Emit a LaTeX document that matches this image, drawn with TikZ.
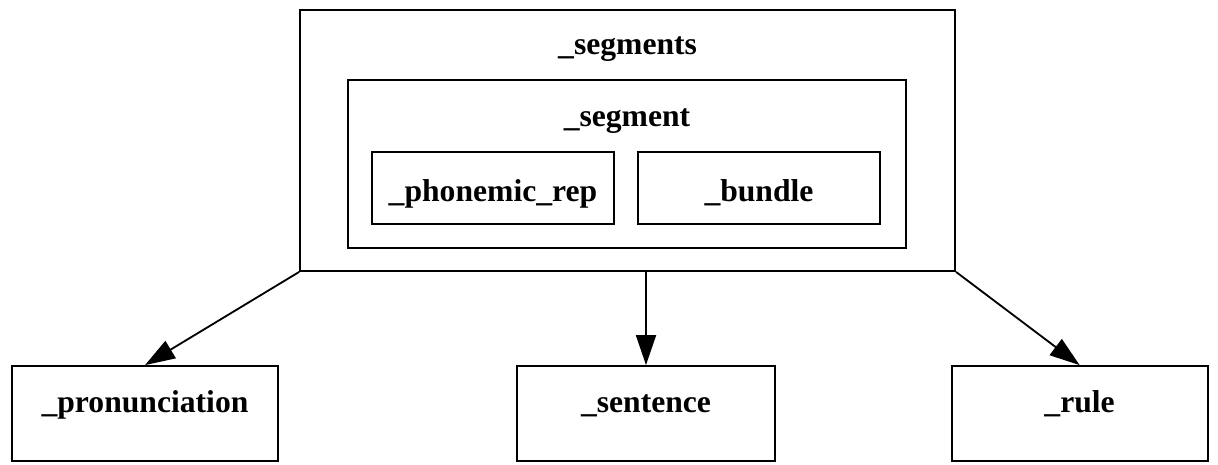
\documentclass[tikz,border=0pt]{standalone}
\usepackage{fontspec}
\setmainfont{Liberation Serif}
\usetikzlibrary{arrows.meta}

\begin{document}
\begin{tikzpicture}
[box/.style={draw, rectangle, line width=1.3pt, inner sep=0pt, anchor=base, font=\fontsize{22.5}{27}\selectfont\bfseries},
 link/.style={line width=1.3pt, -{Triangle[length=7.5mm, width=5mm]}}]
    \useasboundingbox (0,0) rectangle (30.45,11.6);
    % nested boxes
    \node[box, minimum width=16.375cm, text height=1.125cm, text depth=5.4cm] (segs) at (15.69,10.225) {\_segments};
    \node[box, minimum width=13.95cm, text height=1.175cm, text depth=3.025cm] (seg) at (15.675,8.425) {\_segment};
    \node[box, minimum width=6.05cm, text height=1.25cm, text depth=0.55cm] (phon) at (12.325,6.55) {\_phonemic\_rep};
    \node[box, minimum width=6.05cm, text height=1.25cm, text depth=0.55cm] (bund) at (18.975,6.55) {\_bundle};
    % users of _segments
    \node[box, minimum width=6.65cm, text height=1.15cm, text depth=1.225cm] (pron) at (3.625,1.3) {\_pronunciation};
    \node[box, minimum width=6.45cm, text height=1.15cm, text depth=1.225cm] (sent) at (16.15,1.3) {\_sentence};
    \node[box, minimum width=6.4cm, text height=1.15cm, text depth=1.225cm] (rule) at (26.99,1.3) {\_rule};
    \draw[link] (segs.south west) -- (pron.north);
    \draw[link] (segs.south -| sent.north) -- (sent.north);
    \draw[link] (segs.south east) -- (rule.north);
\end{tikzpicture}
\end{document}
